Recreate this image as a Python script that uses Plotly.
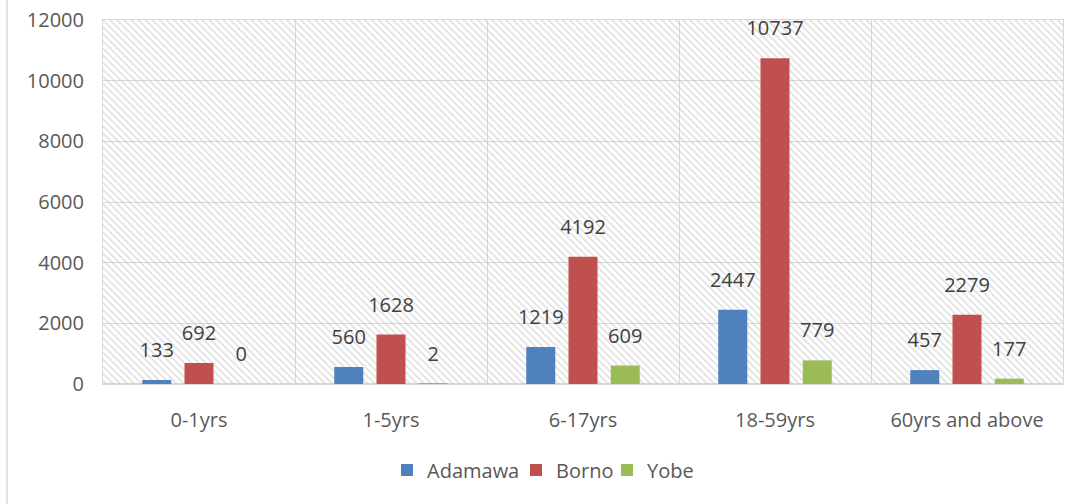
import plotly.graph_objects as go

categories = ["0-1yrs", "1-5yrs", "6-17yrs", "18-59yrs", "60yrs and above"]
adamawa = [133, 560, 1219, 2447, 457]
borno = [692, 1628, 4192, 10737, 2279]
yobe = [0, 2, 609, 779, 177]

series = [
    ("Adamawa", adamawa, "#4F81BD", -0.22),
    ("Borno", borno, "#C0504D", 0.0),
    ("Yobe", yobe, "#9BBB59", 0.22),
]
BAR_W = 0.151
Y_MAX = 12000
idx = list(range(len(categories)))
FONT = "Open Sans"
GRID = "#d9d9d9"
W, H = 1078, 504
ML, MR, MT, MB = 103, 15, 20, 120
# left pixel of each legend entry text
legend_text_px = [429, 558, 649]

fig = go.Figure()

# hatched plot background
fig.add_trace(go.Bar(
    x=idx, y=[Y_MAX] * len(idx), width=1.0,
    marker=dict(color="rgba(0,0,0,0)", line=dict(width=0),
                pattern=dict(shape="\\", fgcolor="#c4c4c4", bgcolor="rgba(0,0,0,0)",
                             size=5, solidity=0.35)),
    showlegend=False, hoverinfo="skip",
))

legend_names = ["legend", "legend2", "legend3"]
for (name, vals, color, off), lg in zip(series, legend_names):
    xs = [i + off for i in idx]
    fig.add_trace(go.Bar(
        x=xs, y=vals, width=BAR_W, name=name, legend=lg,
        marker=dict(color=color, line=dict(width=0)),
    ))
for name, vals, color, off in series:
    xs = [i + off for i in idx]
    fig.add_trace(go.Scatter(
        x=xs, y=vals, mode="markers+text", text=[str(v) for v in vals],
        textposition="top center",
        textfont=dict(family=FONT, size=20, color="#404040"),
        marker=dict(size=27, opacity=0),
        showlegend=False, hoverinfo="skip", cliponaxis=False,
    ))

legend_layout = {}
for lg, px in zip(legend_names, legend_text_px):
    legend_layout[lg] = dict(
        orientation="h", xref="container", yref="container",
        x=(px - 42) / W, xanchor="left", y=(H - 470) / H, yanchor="middle",
        font=dict(family=FONT, size=20, color="#595959"),
        itemclick=False, bgcolor="rgba(0,0,0,0)",
    )

fig.update_layout(
    width=W, height=H,
    barmode="overlay",
    paper_bgcolor="white", plot_bgcolor="white",
    margin=dict(l=ML, r=MR, t=MT, b=MB, autoexpand=False),
    font=dict(family=FONT, color="#595959", size=20),
    shapes=[dict(type="line", xref="paper", yref="paper", x0=(7 - ML) / (W - ML - MR),
                 x1=(7 - ML) / (W - ML - MR),
                 y0=-0.4, y1=1.1, line=dict(color=GRID, width=1.5))],
    **legend_layout,
)
fig.update_xaxes(
    range=[-0.5, len(categories) - 0.5], automargin=False,
    tickmode="array", tickvals=idx, ticktext=categories,
    showgrid=False, zeroline=False, ticks="",
    showline=True, mirror=True, linecolor=GRID, linewidth=1,
    ticklabelstandoff=18,
    minor=dict(tickmode="linear", tick0=-0.5, dtick=1, showgrid=True,
               gridcolor=GRID, gridwidth=1, ticks=""),
    tickfont=dict(family=FONT, size=20, color="#595959"),
)
fig.update_yaxes(
    range=[0, Y_MAX], dtick=2000, tickformat="d", automargin=False,
    showgrid=True, gridcolor=GRID, gridwidth=1,
    zeroline=True, zerolinecolor=GRID, ticks="",
    showline=True, mirror=True, linecolor=GRID,
    ticklabelstandoff=14,
    tickfont=dict(family=FONT, size=20, color="#595959"),
)

fig.write_html("out.html", config={"displayModeBar": False})
with open("out.html", "r", encoding="utf-8") as f:
    html = f.read()
html = html.replace("<head>", "<head><style>html,body{margin:0;padding:0;overflow:hidden}</style>", 1)
with open("out.html", "w", encoding="utf-8") as f:
    f.write(html)
